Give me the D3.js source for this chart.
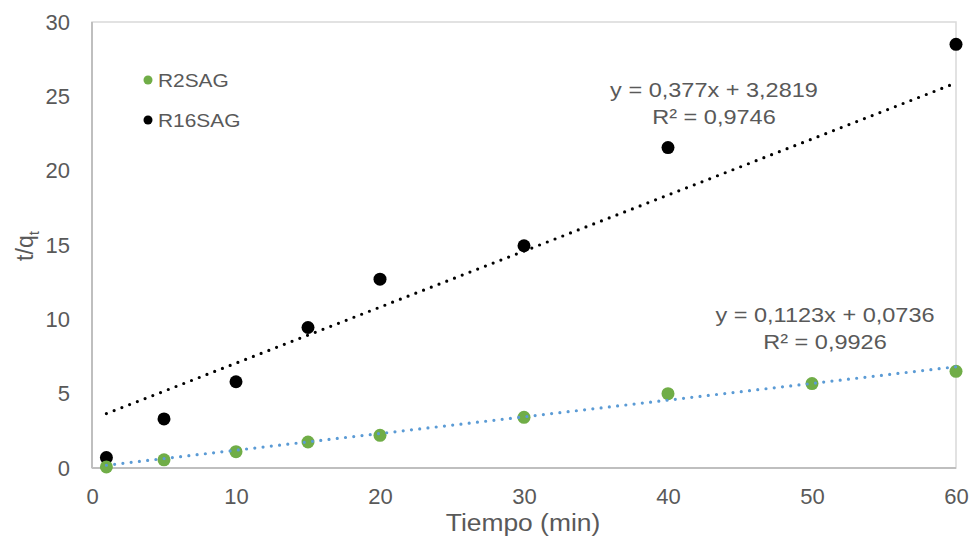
<!DOCTYPE html>
<html><head><meta charset="utf-8">
<script src="https://cdn.jsdelivr.net/npm/d3@7"></script>
<style>body{margin:0;background:#fff}svg{display:block;font-family:Arial,"Liberation Sans",sans-serif}</style>
</head><body><svg id="c" width="973" height="536"></svg>
<script>
const xTicks=[0,10,20,30,40,50,60];
const yTicks=[0,5,10,15,20,25,30];
const timeR2=[1,5,10,15,20,30,40,50,60];
const valR2=[0.07,0.55,1.1,1.75,2.2,3.41,5.0,5.68,6.5];
const timeR16=[1,5,10,15,20,30,40,60];
const valR16=[0.7,3.3,5.8,9.45,12.7,14.95,21.55,28.5];
const seriesNames=["R2SAG","R16SAG"];
const fitR2={m:0.1123,b:0.0736,eq:"y = 0,1123x + 0,0736",r2:"R² = 0,9926"};
const fitR16={m:0.377,b:3.2819,eq:"y = 0,377x + 3,2819",r2:"R² = 0,9746"};

const svg=d3.select("#c");
const L=92,R=956,T=22,B=468;
const x=d3.scaleLinear().domain([0,60]).range([L,R]);
const y=d3.scaleLinear().domain([0,30]).range([B,T]);
const txt="#595959";

// frame
svg.append("rect").attr("x",L).attr("y",T).attr("width",R-L).attr("height",B-T)
  .attr("fill","none").attr("stroke","#d9d9d9").attr("stroke-width",1.5);
svg.append("line").attr("x1",L).attr("x2",L).attr("y1",T).attr("y2",B).attr("stroke","#bfbfbf").attr("stroke-width",2);
svg.append("line").attr("x1",L).attr("x2",R).attr("y1",B).attr("y2",B).attr("stroke","#bfbfbf").attr("stroke-width",2);

// axes
const xa=svg.append("g").attr("transform",`translate(0,${B})`)
  .call(d3.axisBottom(x).tickValues(xTicks).tickSize(0).tickPadding(20));
const ya=svg.append("g").attr("transform",`translate(${L},0)`)
  .call(d3.axisLeft(y).tickValues(yTicks).tickSize(0).tickPadding(22));
[xa,ya].forEach(a=>{a.select(".domain").remove();
  a.selectAll("text").attr("fill",txt).style("font-size","22px").style("font-family","Arial, 'Liberation Sans', sans-serif");});

// stretched text helper
function stext(g,x0,y0,s,size,anchor,sx){
  return g.append("text").attr("transform",`translate(${x0},${y0}) scale(${sx},1)`)
    .attr("text-anchor",anchor).attr("fill",txt).style("font-size",size+"px").text(s);
}

// titles
stext(svg,523,531,"Tiempo (min)",24,"middle",1.1);
const yt=svg.append("text").attr("transform","translate(33,246) rotate(-90)").attr("text-anchor","middle")
  .attr("fill",txt).style("font-size","23px");
yt.append("tspan").text("t/q");
yt.append("tspan").attr("dy",6).style("font-size","15px").text("t");

// points
svg.append("g").selectAll("circle").data(timeR16.map((t,i)=>[t,valR16[i]])).join("circle")
  .attr("cx",d=>x(d[0])).attr("cy",d=>y(d[1])).attr("r",6.5).attr("fill","#000");
svg.append("g").selectAll("circle").data(timeR2.map((t,i)=>[t,valR2[i]])).join("circle")
  .attr("cx",d=>x(d[0])).attr("cy",d=>y(d[1])).attr("r",6.5).attr("fill","#70ad47");

// trendlines
function trend(f,color){
  svg.append("line").attr("x1",x(1)).attr("y1",y(f.m*1+f.b)).attr("x2",x(60)).attr("y2",y(f.m*60+f.b))
    .attr("stroke",color).attr("stroke-width",3.2).attr("stroke-linecap","round").attr("stroke-dasharray","0,8.3");
}
trend(fitR16,"#000");
trend(fitR2,"#5b9bd5");

// equations
function eq(f,cx,cy){
  stext(svg,cx,cy,f.eq,21,"middle",1.12);
  stext(svg,cx,cy+26.5,f.r2,21,"middle",1.12);
}
eq(fitR16,714,97);
eq(fitR2,825,322);

// legend
const lg=[{n:seriesNames[0],c:"#70ad47",y:80},{n:seriesNames[1],c:"#000",y:120}];
lg.forEach(d=>{
  svg.append("circle").attr("cx",148).attr("cy",d.y).attr("r",4.5).attr("fill",d.c);
  stext(svg,158,d.y+7,d.n,18.5,"start",1.13);
});
</script></body></html>
